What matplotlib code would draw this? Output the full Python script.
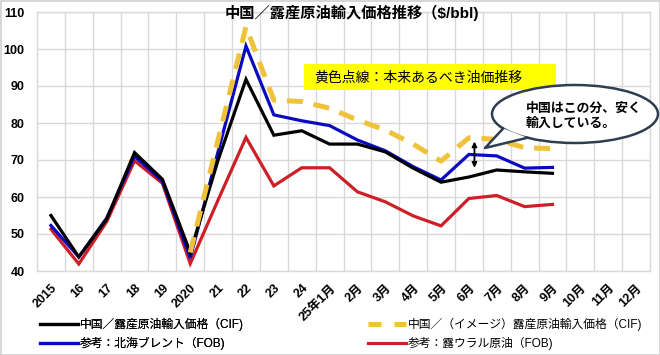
import numpy as np
import matplotlib
matplotlib.use("Agg")
import matplotlib.pyplot as plt
from matplotlib.patches import Ellipse, Polygon, Rectangle
from matplotlib.lines import Line2D

plt.rcParams['font.family'] = ['Liberation Sans', 'Noto Sans CJK JP', 'DejaVu Sans']

categories = ["2015", "16", "17", "18", "19", "2020", "21", "22", "23", "24",
              "25年1月", "2月", "3月", "4月", "5月", "6月", "7月", "8月", "9月",
              "10月", "11月", "12月"]
nan = np.nan
china_cif = [55, 43.8, 54, 72, 64.8, 45, 70, 91.8, 76.7, 77.9,
             74.3, 74.3, 72.2, 67.8, 64, 65.4, 67.3, 66.8, 66.4, nan, nan, nan]
image_cif = [nan, nan, nan, nan, nan, 45, 75.5, 106, 86.2, 85.8,
             84, 80.8, 78.1, 74.3, 69.7, 76, 75.6, 73.3, 73.1, nan, nan, nan]
brent_fob = [52.3, 43.8, 54.3, 71, 64.3, 43.5, 72.3, 100.8, 82.2, 80.6,
             79.3, 75.4, 72.5, 68.2, 64.6, 71.5, 71.1, 67.8, 68, nan, nan, nan]
urals_fob = [51.3, 41.9, 53.3, 69.8, 63.7, 42, 59.2, 76.1, 63, 67.9,
             67.9, 61.4, 58.7, 54.9, 52.2, 59.6, 60.4, 57.4, 58, nan, nan, nan]
labels = ["中国／露産原油輸入価格（CIF)", "中国／（イメージ）露産原油輸入価格（CIF)",
          "参考：北海ブレント（FOB)", "参考：露ウラル原油（FOB)"]
title = "中国／露産原油輸入価格推移（\\$/bbl)"
box_text = "黄色点線：本来あるべき油価推移"
bubble_text = "中国はこの分、安く\n輸入している。"
yticks = [40, 50, 60, 70, 80, 90, 100, 110]

W, H = 660, 355
fig = plt.figure(figsize=(6.6, 3.55), dpi=100)
L, R, T, B = 37, 650, 12, 271
ax = fig.add_axes([L / W, 1 - B / H, (R - L) / W, (B - T) / H])

x = np.arange(len(categories))
c_black = "#000000"
c_yellow = "#F0C23A"
c_blue = "#0A0AC0"
c_red = "#CC1F26"
ax.plot(x, urals_fob, color=c_red, lw=2.3, zorder=3, solid_joinstyle='miter')
ax.plot(x, brent_fob, color=c_blue, lw=2.3, zorder=4, solid_joinstyle='miter')
ax.plot(x, china_cif, color=c_black, lw=2.3, zorder=5, solid_joinstyle='miter')
ax.plot(x, image_cif, color=c_yellow, lw=3.6, zorder=6, dashes=(3.2, 2.2))

ax.set_xlim(-0.5, len(categories) - 0.5)
ax.set_ylim(40, 110)
ax.set_yticks(yticks)
ax.set_yticklabels([str(v) for v in yticks], fontsize=9, fontweight='bold')
ax.set_xticks(x)
ax.set_xticklabels(categories, rotation=45, ha='right', rotation_mode='anchor',
                   fontsize=9, fontweight='bold')
ax.set_xticks(np.arange(-0.5, len(categories), 1.0), minor=True)
ax.tick_params(axis='both', which='both', length=0)
ax.tick_params(axis='x', pad=8)
ax.tick_params(axis='y', pad=9)
ax.grid(axis='y', which='major', color='#D9D9D9', lw=1)
ax.grid(axis='x', which='minor', color='#D9D9D9', lw=1)
for s in ax.spines.values():
    s.set_color('#D9D9D9')
    s.set_linewidth(1)

# double arrow
ax.annotate("", xy=(15.2, 75.0), xytext=(15.2, 67.9),
            arrowprops=dict(arrowstyle='<|-|>', color='black', lw=1.3,
                            mutation_scale=7, shrinkA=0, shrinkB=0), zorder=8)

# overlay in pixel coords
ov = fig.add_axes([0, 0, 1, 1], zorder=10)
ov.set_xlim(0, W)
ov.set_ylim(H, 0)
ov.axis('off')
ov.patch.set_alpha(0)

ov.add_patch(Rectangle((0.5, 0.5), W - 1, H - 1, fill=False, ec='#CFCFCF', lw=1.2))

ov.text(352, 13, title, ha='center', va='center', fontsize=11, fontweight='bold')

ov.add_patch(Rectangle((304, 64), 252, 26, fc='#FFFF00', ec='none'))
ov.text(314, 77.5, box_text, ha='left', va='center', fontsize=10)

# speech bubble
cx, cy, a, b = 575, 114, 83, 29
edge = '#2E3E50'
ov.add_patch(Ellipse((cx, cy), 2 * a, 2 * b, fc='white', ec=edge, lw=1.8))
t1, t2 = np.deg2rad(150), np.deg2rad(125)
p1 = (cx + a * np.cos(t1), cy + b * np.sin(t1))
p2 = (cx + a * np.cos(t2), cy + b * np.sin(t2))
tip = (485, 148)
ov.add_patch(Polygon([p1, tip, p2], closed=True, fc='white', ec='none'))
ov.plot([p1[0], tip[0], p2[0]], [p1[1], tip[1], p2[1]], color=edge, lw=1.8)
ov.text(526, 116, bubble_text, ha='left', va='center', fontsize=9.3,
        fontweight='bold', linespacing=1.3)

# legends
h_black = Line2D([], [], color=c_black, lw=2.3)
h_yellow = Line2D([], [], color=c_yellow, lw=3.6, dashes=(2.6, 2.6))
h_blue = Line2D([], [], color=c_blue, lw=2.3)
h_red = Line2D([], [], color=c_red, lw=2.3)
leg1 = fig.legend([h_black, h_blue], [labels[0], labels[2]], loc='center left',
                  bbox_to_anchor=(40 / W, 1 - 334 / H), frameon=False, fontsize=8.5,
                  handlelength=3.2, handletextpad=0.15, borderpad=0, borderaxespad=0,
                  labelspacing=0.45)
leg2 = fig.legend([h_yellow, h_red], [labels[1], labels[3]], loc='center left',
                  bbox_to_anchor=(368 / W, 1 - 334 / H), frameon=False, fontsize=8.5,
                  handlelength=3.2, handletextpad=0.15, borderpad=0, borderaxespad=0,
                  labelspacing=0.45)
fig.add_artist(leg1)

fig.savefig("out.png", dpi=100)
